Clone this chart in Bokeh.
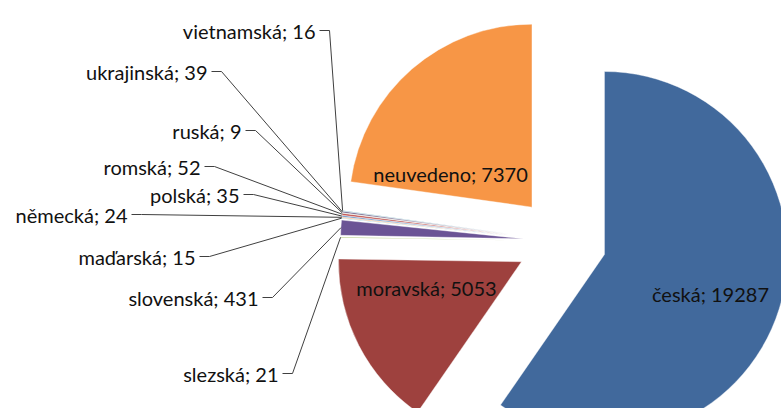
import numpy as np
from bokeh.plotting import figure
from bokeh.models import Range1d, ColumnDataSource
from bokeh.embed import file_html
from bokeh.resources import INLINE
from bokeh.core.properties import value

# ---- data ----
categories = ["česká", "moravská", "slezská", "slovenská", "maďarská", "německá",
              "polská", "romská", "ruská", "ukrajinská", "vietnamská", "neuvedeno"]
counts = [19287, 5053, 21, 431, 15, 24, 35, 52, 9, 39, 16, 7370]

# ---- style / layout ----
colors = ["#41699C", "#9E413E", "#9BBB59", "#6B5495", "#4BACC6", "#F79646",
          "#4F81BD", "#C0504D", "#7E9B45", "#5B4A7A", "#3A8FA6", "#F79646"]
explode = [45, 45, 38, 38, 38, 38, 38, 38, 38, 38, 38, 45]
W, H = 781, 408
cx, cy_pix = 561.0, 240.6
R = 183.0
FONT = "Lato"
FSIZE = "20px"

# label placement (pixel space): inside labels centered, outside right-aligned
inside = {"česká": (710, 293), "moravská": (426, 287), "neuvedeno": (450, 173)}
outside = {"vietnamská": (315, 30), "ukrajinská": (207, 71), "ruská": (241, 130),
           "romská": (200, 166), "polská": (239, 194), "německá": (127, 214),
           "maďarská": (195, 256), "slovenská": (258, 297), "slezská": (278, 373)}


def Y(py):
    return H - py


p = figure(width=W, height=H, output_backend="svg", toolbar_location=None,
           x_range=Range1d(0, W), y_range=Range1d(0, H),
           min_border=0, outline_line_color=None)
p.axis.visible = False
p.grid.visible = False
p.background_fill_color = "white"
p.border_fill_color = "white"

total = float(sum(counts))
clock = np.concatenate([[0.0], np.cumsum(counts) / total * 360.0])
th1, th2 = clock[:-1], clock[1:]
start = np.radians(90.0 - th2)
end = np.radians(90.0 - th1)
mid = (start + end) / 2.0
ex = np.array(explode, dtype=float)
xs = cx + ex * np.cos(mid)
ys = Y(cy_pix) + ex * np.sin(mid)

src = ColumnDataSource(dict(x=xs, y=ys, start=start, end=end, color=colors))
p.wedge(x="x", y="y", radius=R, start_angle="start", end_angle="end",
        fill_color="color", line_color="white", line_width=0.4, source=src)

# outside labels with leader lines
lx, ly, lt = [], [], []
mx, my = [], []
for i, cat in enumerate(categories):
    lab = f"{cat}; {counts[i]}"
    if cat in outside:
        rx, by = outside[cat]
        lx.append(rx); ly.append(Y(by)); lt.append(lab)
        ax = xs[i] + R * np.cos(mid[i])
        ay = ys[i] + R * np.sin(mid[i])
        mx.append([rx + 4, rx + 14, ax])
        my.append([Y(by), Y(by), ay])

p.multi_line(xs=mx, ys=my, line_color="#404040", line_width=1)
p.text(x=lx, y=ly, text=lt, text_align="right", text_baseline="alphabetic",
       text_font=value(FONT), text_font_size=FSIZE, text_color="#111111")

ix, iy, it = [], [], []
for i, cat in enumerate(categories):
    if cat in inside:
        px_, by = inside[cat]
        ix.append(px_); iy.append(Y(by)); it.append(f"{cat}; {counts[i]}")
p.text(x=ix, y=iy, text=it, text_align="center", text_baseline="alphabetic",
       text_font=value(FONT), text_font_size=FSIZE, text_color="#111111")

open("out.html", "w").write(file_html(p, INLINE))
